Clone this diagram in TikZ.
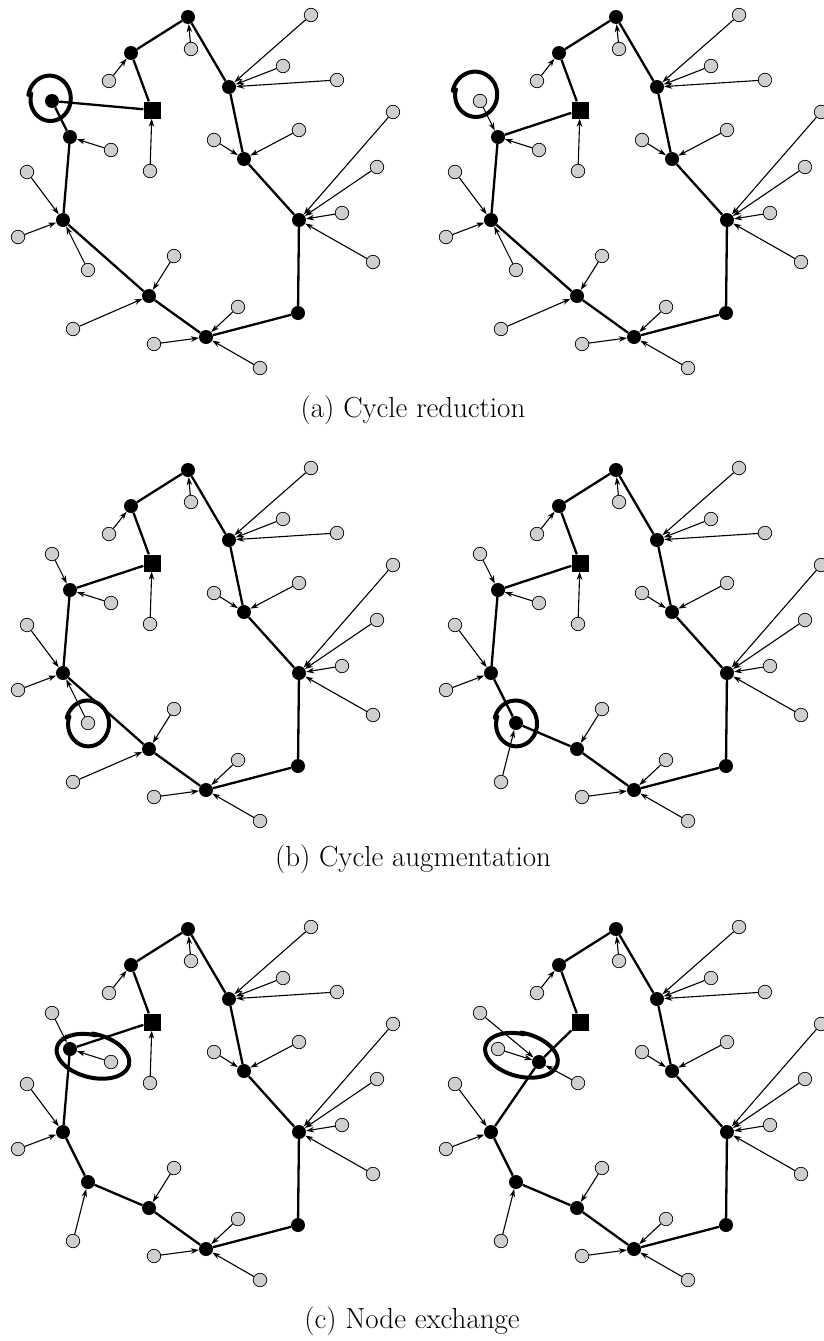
\documentclass[tikz,border=0pt]{standalone}
\usetikzlibrary{arrows.meta}
\tikzset{
 bnode/.style={circle, fill=black, inner sep=0pt, minimum size=14pt},
 gnode/.style={circle, fill=gray!38, draw=black, line width=0.7pt, inner sep=0pt, minimum size=13.5pt},
 depot/.style={rectangle, fill=black, inner sep=0pt, minimum size=17pt},
 tour/.style={line width=2.3pt},
 arr/.style={line width=1.1pt, -{Stealth[length=8pt,width=5.5pt,inset=2.5pt]}},
 curlst/.style={line width=4pt, line cap=round},
 captext/.style={font=\fontsize{29}{34}\selectfont, anchor=base, inner sep=0pt},
}
\newcommand\curlmark[7]{%
 \draw[curlst] plot[smooth, samples=60, domain=0:365, variable=\t]
 ({#1 + (1-#7*\t/365)*(#3*cos(#6+\t)*cos(#5) - #4*sin(#6+\t)*sin(#5))},
  {#2 + (1-#7*\t/365)*(#3*cos(#6+\t)*sin(#5) + #4*sin(#6+\t)*cos(#5))});
}
\newcommand\basegraph[1]{%
 \node[bnode] (#1T) at (188,17) {};
 \node[bnode] (#1A) at (131,53) {};
 \node[depot] (#1S) at (152,110) {};
 \node[bnode] (#1E) at (63,220) {};
 \node[bnode] (#1F) at (149,296) {};
 \node[bnode] (#1G) at (206,337) {};
 \node[bnode] (#1H) at (298,313) {};
 \node[bnode] (#1I) at (299,220) {};
 \node[bnode] (#1J) at (244,159) {};
 \node[bnode] (#1K) at (229,87) {};
 \node[gnode] (#1g1) at (191,49) {};
 \node[gnode] (#1g2) at (109,81) {};
 \node[gnode] (#1g3) at (150,171) {};
 \node[gnode] (#1g5) at (27,172) {};
 \node[gnode] (#1g6) at (18,237) {};
 \node[gnode] (#1g8) at (174,256) {};
 \node[gnode] (#1g9) at (73,329) {};
 \node[gnode] (#1g10) at (238,307) {};
 \node[gnode] (#1g11) at (154,344) {};
 \node[gnode] (#1g12) at (260,368) {};
 \node[gnode] (#1g13) at (311,15) {};
 \node[gnode] (#1g14) at (283,66) {};
 \node[gnode] (#1g15) at (337,80) {};
 \node[gnode] (#1g16) at (214,140) {};
 \node[gnode] (#1g17) at (299,130) {};
 \node[gnode] (#1g18) at (393,112) {};
 \node[gnode] (#1g19) at (377,167) {};
 \node[gnode] (#1g20) at (342,213) {};
 \node[gnode] (#1g21) at (373,262) {};
 \draw[tour] (#1T) -- (#1A);
 \draw[tour] (#1A) -- (#1S);
 \draw[tour] (#1F) -- (#1G);
 \draw[tour] (#1G) -- (#1H);
 \draw[tour] (#1H) -- (#1I);
 \draw[tour] (#1I) -- (#1J);
 \draw[tour] (#1J) -- (#1K);
 \draw[tour] (#1K) -- (#1T);
 \draw[arr] (#1g1) -- (#1T);
 \draw[arr] (#1g2) -- (#1A);
 \draw[arr] (#1g5) -- (#1E);
 \draw[arr] (#1g6) -- (#1E);
 \draw[arr] (#1g8) -- (#1F);
 \draw[arr] (#1g10) -- (#1G);
 \draw[arr] (#1g11) -- (#1G);
 \draw[arr] (#1g12) -- (#1G);
 \draw[arr] (#1g13) -- (#1K);
 \draw[arr] (#1g14) -- (#1K);
 \draw[arr] (#1g15) -- (#1K);
 \draw[arr] (#1g16) -- (#1J);
 \draw[arr] (#1g17) -- (#1J);
 \draw[arr] (#1g18) -- (#1I);
 \draw[arr] (#1g19) -- (#1I);
 \draw[arr] (#1g20) -- (#1I);
 \draw[arr] (#1g21) -- (#1I);
}
\begin{document}
\begin{tikzpicture}[x=1pt, y=-1pt]
\useasboundingbox (0,0) rectangle (823,1341);
% ---------- (a) left
\begin{scope}
 \basegraph{aL}
 \node[bnode] (aLC) at (52,101) {};
 \node[bnode] (aLD) at (70,137) {};
 \node[gnode] (aLg4) at (111,150) {};
 \node[gnode] (aLg7) at (88,270) {};
 \draw[tour] (aLS) -- (aLC);
 \draw[tour] (aLC) -- (aLD);
 \draw[tour] (aLD) -- (aLE);
 \draw[tour] (aLE) -- (aLF);
 \draw[arr] (aLg3) -- (aLS);
 \draw[arr] (aLg4) -- (aLD);
 \draw[arr] (aLg7) -- (aLE);
 \draw[arr] (aLg9) -- (aLF);
 \curlmark{50}{99}{22}{24}{0}{190}{0.12}
\end{scope}
% ---------- (a) right
\begin{scope}[shift={(428,0)}]
 \basegraph{aR}
 \node[gnode] (aRC) at (52,101) {};
 \node[bnode] (aRD) at (70,137) {};
 \node[gnode] (aRg4) at (111,150) {};
 \node[gnode] (aRg7) at (88,270) {};
 \draw[tour] (aRS) -- (aRD);
 \draw[tour] (aRD) -- (aRE);
 \draw[tour] (aRE) -- (aRF);
 \draw[arr] (aRC) -- (aRD);
 \draw[arr] (aRg3) -- (aRS);
 \draw[arr] (aRg4) -- (aRD);
 \draw[arr] (aRg7) -- (aRE);
 \draw[arr] (aRg9) -- (aRF);
 \curlmark{47.5}{95}{23}{24}{0}{190}{0.12}
\end{scope}
\node[captext] (capa) at (413,417) {(a) Cycle reduction};
% ---------- (b) left
\begin{scope}[shift={(0,453)}]
 \basegraph{bL}
 \node[gnode] (bLC) at (52,101) {};
 \node[bnode] (bLD) at (70,137) {};
 \node[gnode] (bLg4) at (111,150) {};
 \node[gnode] (bLg7) at (88,270) {};
 \draw[tour] (bLS) -- (bLD);
 \draw[tour] (bLD) -- (bLE);
 \draw[tour] (bLE) -- (bLF);
 \draw[arr] (bLC) -- (bLD);
 \draw[arr] (bLg3) -- (bLS);
 \draw[arr] (bLg4) -- (bLD);
 \draw[arr] (bLg7) -- (bLE);
 \draw[arr] (bLg9) -- (bLF);
 \curlmark{88}{271}{22}{24}{0}{195}{0.1}
\end{scope}
% ---------- (b) right
\begin{scope}[shift={(428,453)}]
 \basegraph{bR}
 \node[gnode] (bRC) at (52,101) {};
 \node[bnode] (bRD) at (70,137) {};
 \node[gnode] (bRg4) at (111,150) {};
 \node[bnode] (bRg7) at (88,270) {};
 \draw[tour] (bRS) -- (bRD);
 \draw[tour] (bRD) -- (bRE);
 \draw[tour] (bRE) -- (bRg7);
 \draw[tour] (bRg7) -- (bRF);
 \draw[arr] (bRC) -- (bRD);
 \draw[arr] (bRg3) -- (bRS);
 \draw[arr] (bRg4) -- (bRD);
 \draw[arr] (bRg9) -- (bRg7);
 \curlmark{88}{271}{22}{24}{0}{195}{0.1}
\end{scope}
\node[captext] (capb) at (413,866) {(b) Cycle augmentation};
% ---------- (c) left
\begin{scope}[shift={(0,912)}]
 \basegraph{cL}
 \node[gnode] (cLC) at (52,101) {};
 \node[bnode] (cLD) at (70,137) {};
 \node[gnode] (cLg4) at (111,150) {};
 \node[bnode] (cLg7) at (88,270) {};
 \draw[tour] (cLS) -- (cLD);
 \draw[tour] (cLD) -- (cLE);
 \draw[tour] (cLE) -- (cLg7);
 \draw[tour] (cLg7) -- (cLF);
 \draw[arr] (cLC) -- (cLD);
 \draw[arr] (cLg3) -- (cLS);
 \draw[arr] (cLg4) -- (cLD);
 \draw[arr] (cLg9) -- (cLg7);
 \curlmark{92.5}{144}{38}{22}{14}{262}{0.05}
\end{scope}
% ---------- (c) right
\begin{scope}[shift={(428,912)}]
 \basegraph{cR}
 \node[gnode] (cRC) at (52,101) {};
 \node[gnode] (cRD) at (70,137) {};
 \node[bnode] (cRg4) at (111,150) {};
 \node[bnode] (cRg7) at (88,270) {};
 \draw[tour] (cRS) -- (cRg4);
 \draw[tour] (cRg4) -- (cRE);
 \draw[tour] (cRE) -- (cRg7);
 \draw[tour] (cRg7) -- (cRF);
 \draw[arr] (cRC) -- (cRg4);
 \draw[arr] (cRD) -- (cRg4);
 \draw[arr] (cRg3) -- (cRg4);
 \draw[arr] (cRg9) -- (cRg7);
 \curlmark{93}{143}{38}{22}{14}{262}{0.05}
\end{scope}
\node[captext] (capc) at (412,1328) {(c) Node exchange};
\end{tikzpicture}
\end{document}
